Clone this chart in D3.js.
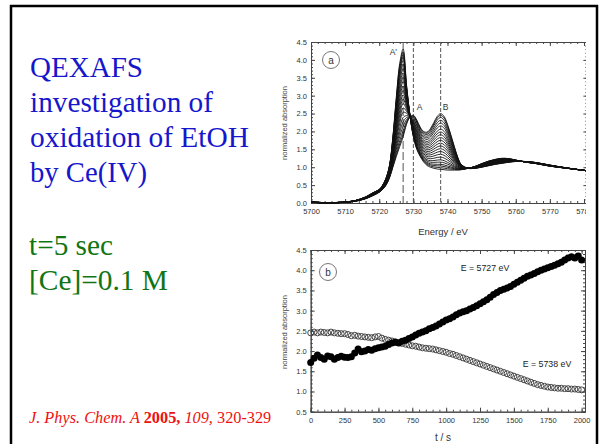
<!DOCTYPE html>
<html>
<head>
<meta charset="utf-8">
<script src="https://cdn.jsdelivr.net/npm/d3@7"></script>
<style>
body { margin: 0; background: #fff; }
svg { display: block; }
</style>
</head>
<body>
<div id="slide"></div>
<script>
// energy grid (eV) for panel a
const energies = [5700, 5705, 5710, 5713, 5716, 5718, 5720, 5721, 5722, 5723, 5724, 5725, 5726, 5727,
  5728, 5729, 5730, 5731, 5732, 5733, 5734, 5735, 5736, 5737, 5738, 5739, 5740, 5741, 5742, 5743, 5744,
  5746, 5748, 5750, 5752, 5754, 5756, 5758, 5760, 5763, 5766, 5770, 5775, 5781];
// start spectrum, Ce(IV): peaks A and B
const spectrumStart = [0.02, 0.0, 0.02, 0.05, 0.12, 0.2, 0.3, 0.38, 0.5, 0.7, 1.0, 1.3, 1.58, 1.85,
  2.2, 2.4, 2.45, 2.32, 2.12, 2.0, 1.98, 2.08, 2.25, 2.42, 2.5, 2.42, 2.2, 1.9, 1.58, 1.28, 1.08,
  0.97, 0.97, 1.0, 1.04, 1.08, 1.11, 1.14, 1.16, 1.16, 1.13, 1.06, 0.98, 0.9];
// end spectrum, Ce(III): peak A'
const spectrumEnd = [0.03, 0.01, 0.03, 0.07, 0.17, 0.28, 0.38, 0.5, 0.7, 1.05, 1.85, 2.95, 3.9, 4.3,
  3.3, 2.45, 1.85, 1.5, 1.3, 1.15, 1.05, 1.0, 0.97, 0.95, 0.94, 0.93, 0.92, 0.92, 0.92, 0.92, 0.93,
  0.97, 1.02, 1.1, 1.17, 1.22, 1.25, 1.24, 1.2, 1.14, 1.1, 1.03, 0.97, 0.9];
// fraction of Ce(III) in each recorded spectrum
const fractions = [0, 0.03, 0.07, 0.12, 0.17, 0.22, 0.28, 0.33, 0.38, 0.43, 0.48, 0.53, 0.58,
  0.63, 0.68, 0.73, 0.78, 0.83, 0.87, 0.91, 0.94, 0.97, 1.0];
const markerLines = [5727, 5730, 5738];

// panel b: time (s) and absorption at two energies
const times = d3.range(0, 2001, 25);
const abs5727 = [1.72, 1.82, 1.9, 1.84, 1.8, 1.88, 1.86, 1.8, 1.84, 1.87, 1.85, 1.84, 1.86, 1.95, 2.05,
  1.98, 2.0, 2.04, 2.02, 2.06, 2.08, 2.1, 2.12, 2.16, 2.2, 2.22, 2.2, 2.24, 2.27, 2.31, 2.35, 2.4,
  2.44, 2.47, 2.5, 2.55, 2.58, 2.62, 2.67, 2.72, 2.77, 2.8, 2.84, 2.9, 2.94, 2.97, 3.0, 3.04, 3.08,
  3.12, 3.17, 3.22, 3.27, 3.33, 3.4, 3.45, 3.5, 3.53, 3.56, 3.6, 3.65, 3.7, 3.75, 3.8, 3.85, 3.88,
  3.92, 3.96, 4.0, 4.03, 4.06, 4.09, 4.12, 4.16, 4.2, 4.25, 4.3, 4.33, 4.3, 4.35, 4.25];
const abs5738 = [2.45, 2.47, 2.45, 2.47, 2.46, 2.45, 2.47, 2.45, 2.44, 2.43, 2.43, 2.41, 2.38, 2.39,
  2.37, 2.36, 2.35, 2.34, 2.33, 2.35, 2.36, 2.32, 2.29, 2.27, 2.25, 2.23, 2.21, 2.19, 2.17, 2.15,
  2.13, 2.12, 2.1, 2.08, 2.07, 2.06, 2.05, 2.03, 2.01, 1.99, 1.97, 1.94, 1.92, 1.89, 1.86, 1.83,
  1.8, 1.77, 1.74, 1.71, 1.68, 1.65, 1.62, 1.59, 1.56, 1.53, 1.5, 1.47, 1.44, 1.41, 1.38, 1.35,
  1.32, 1.29, 1.26, 1.23, 1.2, 1.17, 1.15, 1.13, 1.11, 1.1, 1.09, 1.08, 1.08, 1.07, 1.07, 1.06,
  1.06, 1.05, 1.04];

const W = 600, H = 444;
const axisFont = "'Liberation Sans', Arial, sans-serif";
const serif = "'Liberation Serif', 'Times New Roman', serif";

const svg = d3.select("#slide").append("svg")
  .attr("width", W).attr("height", H);

// slide frame
svg.append("path")
  .attr("d", "M11,444 V6 H597 V444")
  .attr("fill", "none").attr("stroke", "#000").attr("stroke-width", 2.5);

// left side text, widths matched to the slide
const blue = "#1616cc", green = "#117511";
const titleLines = [["QEXAFS", 113], ["investigation of", 183], ["oxidation of EtOH", 219], ["by Ce(IV)", 117]];
svg.append("g").selectAll("text").data(titleLines).join("text")
  .attr("x", 30).attr("y", (d, i) => 77 + i * 35)
  .attr("font-family", serif).attr("font-size", 29.5).attr("fill", blue)
  .attr("textLength", d => d[1]).attr("lengthAdjust", "spacingAndGlyphs")
  .text(d => d[0]);
const condLines = [["t=5 sec", 84], ["[Ce]=0.1 M", 139]];
svg.append("g").selectAll("text").data(condLines).join("text")
  .attr("x", 29).attr("y", (d, i) => 255 + i * 35)
  .attr("font-family", serif).attr("font-size", 29.5).attr("fill", green)
  .attr("textLength", d => d[1]).attr("lengthAdjust", "spacingAndGlyphs")
  .text(d => d[0]);

const cite = svg.append("text").attr("x", 29).attr("y", 423)
  .attr("font-family", serif).attr("font-size", 16.3).attr("fill", "#ee1111");
cite.append("tspan").attr("font-style", "italic").text("J. Phys. Chem. A ");
cite.append("tspan").attr("font-weight", "bold").text("2005,");
cite.append("tspan").attr("font-style", "italic").text(" 109,");
cite.append("tspan").text(" 320-329");

// axis frame helper: inward ticks on all four sides
function drawFrame(g, x, y, o) {
  const [x0, x1] = x.range(), [y0, y1] = y.range();
  const col = "#444";
  const style = sel => {
    sel.select(".domain").attr("stroke", col).attr("stroke-width", 1);
    sel.selectAll(".tick line").attr("stroke", col);
    sel.selectAll("text").attr("fill", "#333").attr("font-family", axisFont).attr("font-size", 7.5);
  };
  const fmt = d3.format(".1f");
  g.append("g").attr("transform", `translate(0,${y0})`)
    .call(d3.axisBottom(x).tickValues(o.xMinor).tickSize(-2).tickFormat("")).call(style);
  g.append("g").attr("transform", `translate(0,${y0})`)
    .call(d3.axisBottom(x).tickValues(o.xMajor).tickSizeInner(-4).tickSizeOuter(0).tickPadding(6).tickFormat(d3.format("d")))
    .call(style);
  g.append("g").attr("transform", `translate(0,${y1})`)
    .call(d3.axisTop(x).tickValues(o.xMinor).tickSize(-2).tickFormat("")).call(style);
  g.append("g").attr("transform", `translate(0,${y1})`)
    .call(d3.axisTop(x).tickValues(o.xMajor).tickSizeInner(-4).tickSizeOuter(0).tickFormat("")).call(style);
  g.append("g").attr("transform", `translate(${x0},0)`)
    .call(d3.axisLeft(y).tickValues(o.yMinor).tickSize(-2).tickFormat("")).call(style);
  g.append("g").attr("transform", `translate(${x0},0)`)
    .call(d3.axisLeft(y).tickValues(o.yMajor).tickSizeInner(-4).tickSizeOuter(0).tickPadding(4).tickFormat(fmt))
    .call(style);
  g.append("g").attr("transform", `translate(${x1},0)`)
    .call(d3.axisRight(y).tickValues(o.yMinor).tickSize(-2).tickFormat("")).call(style);
  g.append("g").attr("transform", `translate(${x1},0)`)
    .call(d3.axisRight(y).tickValues(o.yMajor).tickSizeInner(-4).tickSizeOuter(0).tickFormat("")).call(style);
}

function circleLabel(g, cx, cy, t) {
  g.append("circle").attr("cx", cx).attr("cy", cy).attr("r", 8.5)
    .attr("fill", "none").attr("stroke", "#777").attr("stroke-width", 1);
  g.append("text").attr("x", cx).attr("y", cy + 3.5).attr("text-anchor", "middle")
    .attr("font-family", axisFont).attr("font-size", 10).attr("fill", "#333").text(t);
}

function yTitle(cy) {
  svg.append("text").attr("transform", `translate(287,${cy}) rotate(-90)`)
    .attr("text-anchor", "middle").attr("font-family", axisFont).attr("font-size", 7.5)
    .attr("fill", "#444").text("normalized absorption");
}

// ---------- panel a ----------
svg.append("clipPath").attr("id", "clipA").append("rect")
  .attr("x", 270).attr("y", 30).attr("width", 316).attr("height", 200);
const ga = svg.append("g").attr("clip-path", "url(#clipA)");
const xa = d3.scaleLinear([5700, 5781], [311, 587.4]);
const ya = d3.scaleLinear([0, 4.5], [203, 42]);

drawFrame(ga, xa, ya, {
  xMajor: d3.range(5700, 5781, 10), xMinor: d3.range(5700, 5781, 2),
  yMajor: d3.range(0, 4.51, 0.5), yMinor: d3.range(0, 4.51, 0.1)
});

ga.selectAll("line.marker").data(markerLines).join("line")
  .attr("class", "marker")
  .attr("x1", d => xa(d)).attr("x2", d => xa(d))
  .attr("y1", ya(4.5)).attr("y2", ya(0))
  .attr("stroke", "#555").attr("stroke-width", 1)
  .attr("stroke-dasharray", (d, i) => i === 0 ? "8,3" : "4,2");

const spectra = fractions.map(f => energies.map((e, i) => [e, (1 - f) * spectrumStart[i] + f * spectrumEnd[i]]));
const lineA = d3.line().x(d => xa(d[0])).y(d => ya(d[1])).curve(d3.curveCatmullRom.alpha(0.5));
ga.append("g").selectAll("path").data(spectra).join("path")
  .attr("d", lineA).attr("fill", "none").attr("stroke", "#111").attr("stroke-width", 0.9);

circleLabel(ga, 331, 60, "a");
const peakLabels = [["A'", 5725.2, 4.15, "end"], ["A", 5731, 2.6, "start"], ["B", 5738.6, 2.6, "start"]];
ga.selectAll("text.peak").data(peakLabels).join("text").attr("class", "peak")
  .attr("x", d => xa(d[1])).attr("y", d => ya(d[2])).attr("text-anchor", d => d[3])
  .attr("font-family", axisFont).attr("font-size", 8.5).attr("fill", "#333").text(d => d[0]);

svg.append("text").attr("x", 443).attr("y", 235).attr("text-anchor", "middle")
  .attr("font-family", axisFont).attr("font-size", 9.5).attr("fill", "#333").text("Energy / eV");
yTitle(123);

// ---------- panel b ----------
const gb = svg.append("g");
const xb = d3.scaleLinear([0, 2025], [310.7, 585]);
const yb = d3.scaleLinear([0.5, 4.5], [411.7, 250]);

drawFrame(gb, xb, yb, {
  xMajor: d3.range(0, 2001, 250), xMinor: d3.range(0, 2001, 50),
  yMajor: d3.range(0.5, 4.51, 0.5), yMinor: d3.range(0.5, 4.51, 0.1)
});

gb.append("g").selectAll("circle").data(times.map((t, i) => [t, abs5738[i]])).join("circle")
  .attr("cx", d => xb(d[0])).attr("cy", d => yb(d[1])).attr("r", 3)
  .attr("fill", "none").attr("stroke", "#444").attr("stroke-width", 1);
gb.append("g").selectAll("circle").data(times.map((t, i) => [t, abs5727[i]])).join("circle")
  .attr("cx", d => xb(d[0])).attr("cy", d => yb(d[1])).attr("r", 3.5)
  .attr("fill", "#000");

circleLabel(gb, 328, 272, "b");
gb.append("text").attr("x", 485).attr("y", 271).attr("text-anchor", "middle")
  .attr("font-family", axisFont).attr("font-size", 8.8).attr("fill", "#222").text("E = 5727 eV");
gb.append("text").attr("x", 547).attr("y", 367).attr("text-anchor", "middle")
  .attr("font-family", axisFont).attr("font-size", 8.8).attr("fill", "#222").text("E = 5738 eV");

svg.append("text").attr("x", 443).attr("y", 441).attr("text-anchor", "middle")
  .attr("font-family", axisFont).attr("font-size", 10).attr("fill", "#333").text("t / s");
yTitle(332);
</script>
</body>
</html>
